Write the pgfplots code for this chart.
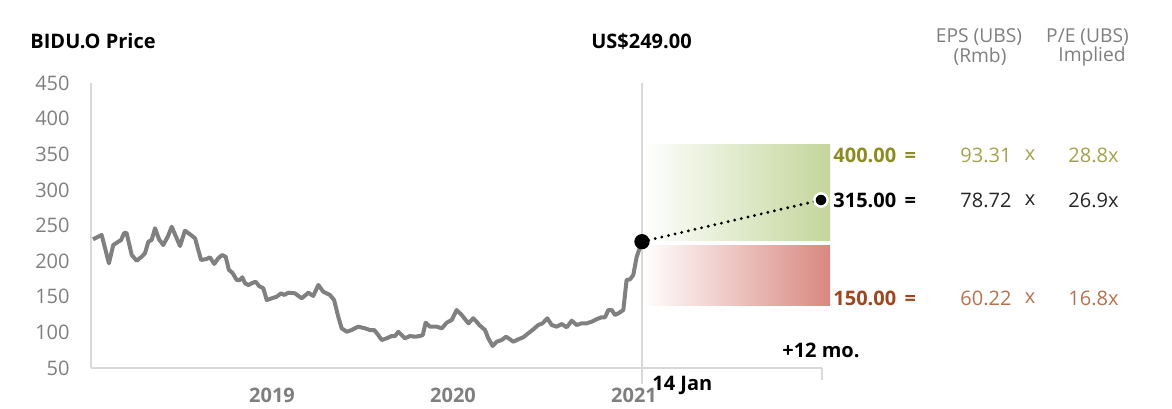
\documentclass[border=0pt]{standalone}
\usepackage{fontspec}
\setmainfont{Open Sans}
\usepackage{pgfplots}
\pgfplotsset{compat=1.18}
\definecolor{axisgray}{HTML}{D9D9D9}
\definecolor{tickgray}{HTML}{7F7F7F}
\definecolor{linegray}{HTML}{808080}
\definecolor{olivedark}{HTML}{8C8C1E}
\definecolor{olivelight}{HTML}{A3A34A}
\definecolor{brick}{HTML}{A0451E}
\definecolor{bricklight}{HTML}{B8704F}
\definecolor{greenbox}{HTML}{C3D69B}
\definecolor{redbox}{HTML}{D98880}
\newcommand{\fs}{\fontsize{10}{12}\selectfont}
\begin{document}
\begin{tikzpicture}
\useasboundingbox (-45.5pt,-20pt) rectangle (540.5pt,184pt);
\begin{axis}[
  at={(0,0)}, anchor=south west,
  scale only axis, width=365.35pt, height=142.5pt,
  xmin=2018, xmax=2022.037, ymin=50, ymax=450,
  axis lines=left,
  axis line style={draw=axisgray, line width=0.9pt, -},
  major tick length=0pt,
  xtick={2019,2020,2021}, xticklabels={2019,2020,2021},
  ytick={50,100,...,450},
  /pgf/number format/assume math mode=true,
  xticklabel style={font=\fs\bfseries, text=tickgray, anchor=center, yshift=-13.5pt},
  yticklabel style={font=\fs, text=tickgray, anchor=east, inner sep=0pt, xshift=-10.5pt},
  clip=false,
]
% target range boxes
\addplot[draw=none, left color=white, right color=greenbox]
  coordinates {(2021.046,229.6)(2022.083,229.6)(2022.083,363)(2021.046,363)} -- cycle;
\addplot[draw=none, left color=white, right color=redbox]
  coordinates {(2021.046,138.4)(2022.083,138.4)(2022.083,222.6)(2021.046,222.6)} -- cycle;
% vertical marker line and +12 mo tick
\addplot[axisgray, line width=0.9pt] coordinates {(2021.046,450)(2021.046,28)};
\addplot[axisgray, line width=0.9pt] coordinates {(2022.037,50)(2022.037,33)};
% price history
\addplot[linegray, line width=2pt, line join=round] coordinates {
(2018.011,230.6)(2018.059,236.7)(2018.099,196.9)(2018.123,222.6)(2018.151,227.3)
(2018.166,229.6)(2018.184,239.9)(2018.197,239.1)(2018.225,208.6)(2018.252,200.6)
(2018.280,206.2)(2018.298,211.0)(2018.317,227.3)(2018.335,229.6)(2018.354,246.1)
(2018.376,230.6)(2018.399,222.6)(2018.424,234.3)(2018.446,248.3)(2018.468,235.3)
(2018.492,221.2)(2018.519,242.7)(2018.552,236.7)(2018.575,232.0)(2018.608,201.6)
(2018.639,203.0)(2018.657,205.4)(2018.681,196.0)(2018.703,204.0)(2018.725,208.6)
(2018.744,206.2)(2018.762,187.5)(2018.781,183.8)(2018.805,173.5)(2018.823,173.5)
(2018.836,177.3)(2018.851,168.9)(2018.869,166.5)(2018.888,168.9)(2018.910,171.1)
(2018.928,165.1)(2018.952,161.9)(2018.971,145.4)(2018.998,147.8)(2019.026,150.1)
(2019.050,154.8)(2019.068,152.5)(2019.090,155.7)(2019.127,154.8)(2019.164,147.8)
(2019.201,155.7)(2019.228,151.1)(2019.256,166.5)(2019.283,157.1)(2019.320,152.5)
(2019.343,145.4)(2019.366,122.0)(2019.385,105.7)(2019.413,100.9)(2019.440,103.3)
(2019.477,108.0)(2019.514,105.7)(2019.541,103.3)(2019.565,103.3)(2019.587,96.3)
(2019.606,89.3)(2019.634,91.7)(2019.661,94.9)(2019.680,94.9)(2019.698,100.9)
(2019.716,96.3)(2019.735,91.7)(2019.762,94.9)(2019.790,93.9)(2019.818,94.9)
(2019.833,96.3)(2019.849,113.6)(2019.873,108.0)(2019.910,108.0)(2019.938,105.7)
(2019.965,113.6)(2019.993,117.4)(2020.020,131.4)(2020.048,124.4)(2020.085,112.7)
(2020.112,119.8)(2020.130,115.0)(2020.145,110.4)(2020.177,103.3)(2020.195,91.7)
(2020.219,80.9)(2020.241,86.9)(2020.269,89.3)(2020.293,93.9)(2020.315,90.3)
(2020.333,86.9)(2020.361,90.3)(2020.388,93.1)(2020.416,98.7)(2020.444,104.3)
(2020.471,110.4)(2020.495,112.7)(2020.521,119.8)(2020.545,110.4)(2020.573,108.0)
(2020.601,111.8)(2020.628,107.1)(2020.656,116.4)(2020.683,110.4)(2020.711,112.7)
(2020.738,112.7)(2020.766,115.0)(2020.793,118.4)(2020.821,121.2)(2020.840,121.2)
(2020.858,131.4)(2020.877,131.4)(2020.895,124.4)(2020.919,127.6)(2020.941,131.4)
(2020.959,173.5)(2020.978,174.5)(2020.996,180.5)(2021.015,206.2)(2021.044,227.3)
};
% projection
\addplot[black, line width=1.6pt, dash pattern=on 0pt off 3.4pt, line cap=round]
  coordinates {(2021.044,227.3)(2022.033,285.8)};
\addplot[only marks, mark=*, mark size=3.6pt, black] coordinates {(2021.044,227.3)};
\addplot[only marks, mark=*, mark size=3.3pt, mark options={fill=black, draw=white, line width=1.2pt}]
  coordinates {(2022.033,285.8)};
\end{axis}
% texts
\node[anchor=west, inner sep=0pt, font=\fs\bfseries] at (-30.5pt,163.5pt) {BIDU.O Price};
\node[inner sep=0pt, font=\fs\bfseries] at (275.25pt,163.5pt) {US\$249.00};
\node[inner sep=0pt, font=\fontsize{9.6}{11}\selectfont, text=tickgray] at (444pt,165.5pt) {EPS (UBS)};
\node[inner sep=0pt, font=\fontsize{9.6}{11}\selectfont, text=tickgray] at (444.5pt,155.5pt) {(Rmb)};
\node[inner sep=0pt, font=\fontsize{9.6}{11}\selectfont, text=tickgray] at (498.25pt,165.5pt) {P/E (UBS)};
\node[inner sep=0pt, font=\fontsize{9.6}{11}\selectfont, text=tickgray] at (500.5pt,155.5pt) {Implied};
% rows
\node[anchor=west, inner sep=0pt, font=\fs\bfseries, text=olivedark] at (371pt,106.5pt) {400.00 \,=};
\node[anchor=west, inner sep=0pt, font=\fs, text=olivelight] at (434.5pt,106.5pt) {93.31};
\node[inner sep=0pt, font=\fs, text=olivelight] at (469.5pt,106.5pt) {x};
\node[anchor=west, inner sep=0pt, font=\fs, text=olivelight] at (488.5pt,106.5pt) {28.8x};
\node[anchor=west, inner sep=0pt, font=\fs\bfseries, text=black] at (371pt,84pt) {315.00 \,=};
\node[anchor=west, inner sep=0pt, font=\fs, text=black!85] at (434.5pt,84pt) {78.72};
\node[inner sep=0pt, font=\fs, text=black!85] at (469.5pt,84pt) {x};
\node[anchor=west, inner sep=0pt, font=\fs, text=black!85] at (488.5pt,84pt) {26.9x};
\node[anchor=west, inner sep=0pt, font=\fs\bfseries, text=brick] at (371pt,35pt) {150.00 \,=};
\node[anchor=west, inner sep=0pt, font=\fs, text=bricklight] at (434.5pt,35pt) {60.22};
\node[inner sep=0pt, font=\fs, text=bricklight] at (469.5pt,35pt) {x};
\node[anchor=west, inner sep=0pt, font=\fs, text=bricklight] at (488.5pt,35pt) {16.8x};
\node[anchor=west, inner sep=0pt, font=\fs\bfseries] at (345.5pt,9pt) {+12 mo.};
\node[anchor=west, inner sep=0pt, font=\fs\bfseries] at (280.5pt,-8.5pt) {14 Jan};
\end{tikzpicture}
\end{document}
